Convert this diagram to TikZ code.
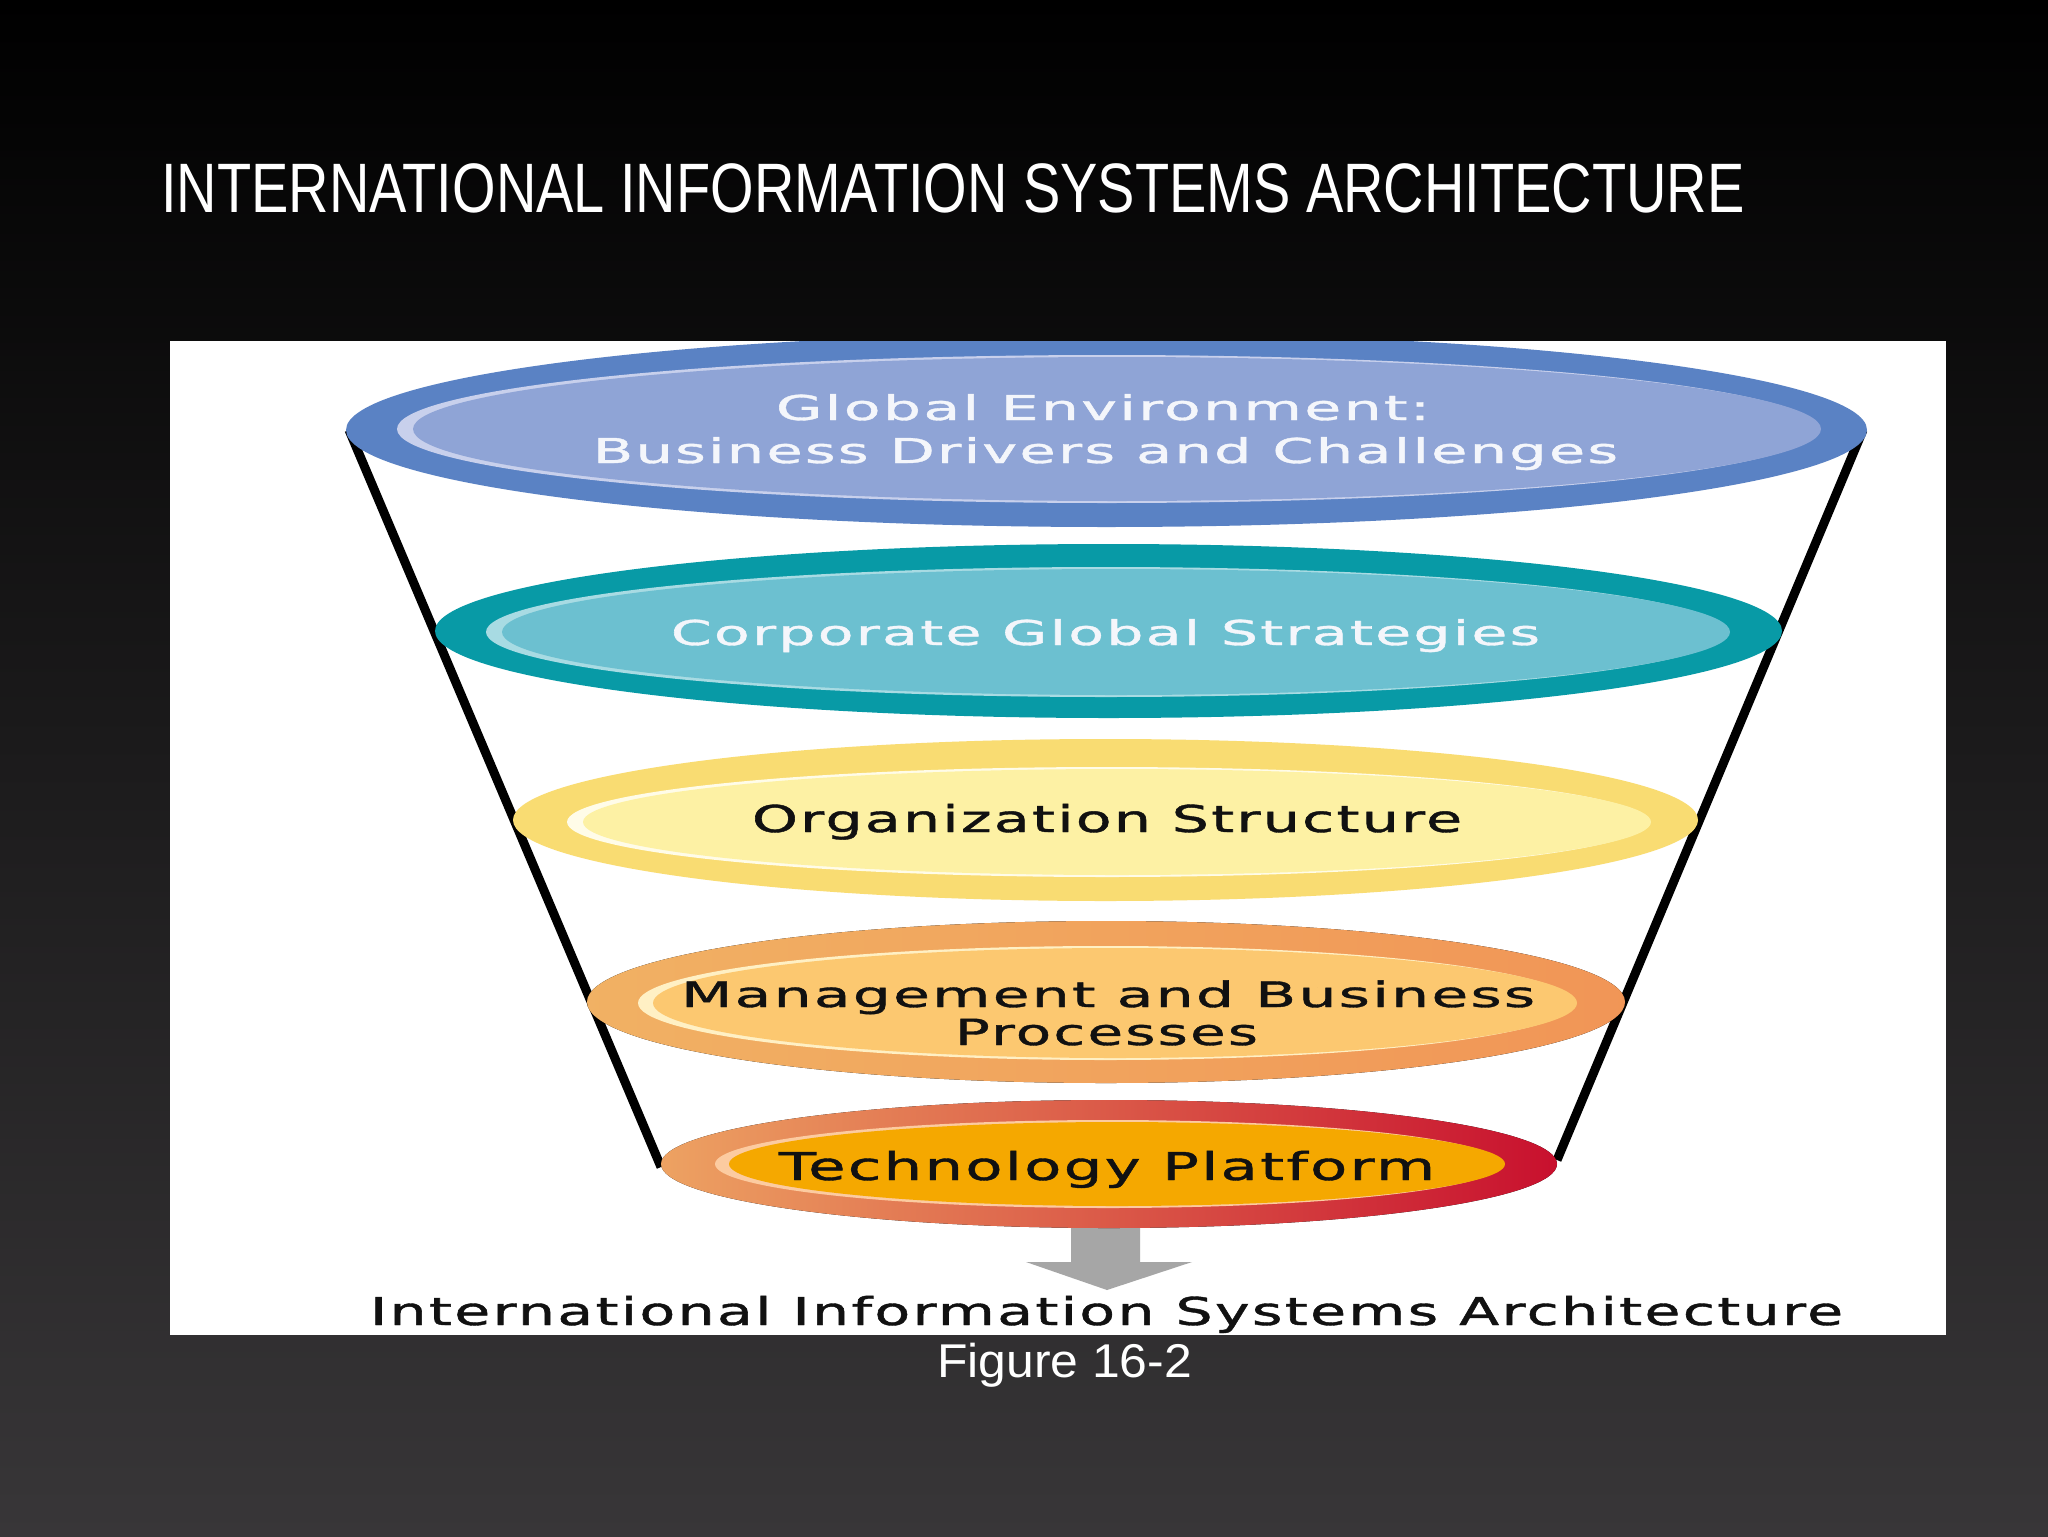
\documentclass[tikz,border=0pt]{standalone}
\usepackage{fontspec}
\usepackage{graphicx}
\setmainfont{Liberation Sans}
\newfontfamily\verd[LetterSpace=4,FakeBold=1]{DejaVu Sans}
\newlength\pxu \setlength\pxu{0.5pt}
\newcommand\fitw[2]{\resizebox{#1\pxu}{\height}{#2}}
\definecolor{bgbot}{HTML}{383638}
\definecolor{blueout}{HTML}{5A82C4}
\definecolor{bluein}{HTML}{8FA4D6}
\definecolor{bluerim}{HTML}{C8D0EC}
\definecolor{tealout}{HTML}{089AA6}
\definecolor{tealin}{HTML}{6CC0D0}
\definecolor{tealrim}{HTML}{A8DBE3}
\definecolor{yelout}{HTML}{F9DC72}
\definecolor{yelin}{HTML}{FDF1A4}
\definecolor{yelrim}{HTML}{FFFCE8}
\definecolor{orout}{HTML}{EFA660}
\definecolor{orin}{HTML}{FCC870}
\definecolor{orrim}{HTML}{FFF0C4}
\definecolor{redl}{HTML}{EDA262}
\definecolor{redm}{HTML}{E25C3C}
\definecolor{redr}{HTML}{C8102E}
\definecolor{redin}{HTML}{F5A800}
\definecolor{redrim}{HTML}{FCCBA0}
\definecolor{arrowgray}{HTML}{A6A6A6}
\definecolor{wtext}{HTML}{F4F6FB}
\definecolor{ktext}{HTML}{111111}
\begin{document}
\begin{tikzpicture}[x=0.5pt,y=-0.5pt,
  lbl/.style={anchor=base,inner sep=0pt},
  funnel/.style={line width=4.5pt,black}]
\shade[top color=black,bottom color=bgbot] (0,0) rectangle (2048,1536);
\useasboundingbox (0,0) rectangle (2048,1536);
\node[lbl,anchor=base west,text=white] (title) at (161,212)
  {\fontsize{35pt}{40pt}\selectfont\fitw{1583}{INTERNATIONAL INFORMATION SYSTEMS ARCHITECTURE}};
\fill[white] (170,341) rectangle (1946,1335);
\begin{scope}
\clip (170,341) rectangle (1946,1335);
\coordinate (lt) at (349,430);
\coordinate (lb) at (661,1167);
\coordinate (rt) at (1863,430);
\coordinate (rb) at (1557,1160);
\draw[funnel] (lt) -- (lb);
\draw[funnel] (rt) -- (rb);
% blue
\fill[blueout] (1106.5,430) ellipse [x radius=760.5,y radius=97];
\fill[bluerim] (1107,429) ellipse [x radius=710,y radius=74];
\fill[bluein] (1117,429) ellipse [x radius=704,y radius=72];
% teal
\fill[tealout] (1108.5,631) ellipse [x radius=673.5,y radius=87];
\fill[tealrim] (1106,632) ellipse [x radius=620,y radius=65];
\fill[tealin] (1116,632) ellipse [x radius=614,y radius=63];
% yellow
\fill[yelout] (1105.5,820) ellipse [x radius=592.5,y radius=81];
\fill[yelrim] (1107,822) ellipse [x radius=540,y radius=55];
\fill[yelin] (1117,822) ellipse [x radius=534,y radius=53];
% orange
\fill[left color=orout!80!yelout,right color=orout!90!red] (1106,1002) ellipse [x radius=519,y radius=81];
\fill[orrim] (1105.5,1003) ellipse [x radius=467.5,y radius=57];
\fill[orin] (1115,1003) ellipse [x radius=462,y radius=55];
% arrow
\fill[arrowgray] (1071,1228) -- (1140,1228) -- (1140,1262) -- (1192,1262) -- (1107,1290) -- (1026,1262) -- (1071,1262) -- cycle;
% red
\fill[left color=redl,middle color=redm,right color=redr] (1109,1164) ellipse [x radius=448,y radius=64];
\fill[redrim] (1108,1164) ellipse [x radius=393,y radius=44];
\fill[redin] (1117,1164) ellipse [x radius=388,y radius=42];
\end{scope}
% texts
\node[lbl,text=wtext] (g1) at (1103,420) {\verd\fontsize{17.1pt}{20pt}\selectfont\fitw{654}{Global Environment:}};
\node[lbl,text=wtext] (g2) at (1105.5,463) {\verd\fontsize{17.1pt}{20pt}\selectfont\fitw{1025}{Business Drivers and Challenges}};
\node[lbl,text=wtext] (cg) at (1105.5,645) {\verd\fontsize{17.1pt}{20pt}\selectfont\fitw{869}{Corporate Global Strategies}};
\node[lbl,text=ktext] (os) at (1107,832) {\verd\fontsize{18.5pt}{20pt}\selectfont\fitw{710}{Organization Structure}};
\node[lbl,text=ktext] (m1) at (1108,1007) {\verd\fontsize{17.5pt}{20pt}\selectfont\fitw{854}{Management and Business}};
\node[lbl,text=ktext] (m2) at (1106.5,1045) {\verd\fontsize{18pt}{20pt}\selectfont\fitw{303}{Processes}};
\node[lbl,text=ktext] (tp) at (1107,1180) {\verd\fontsize{19.2pt}{20pt}\selectfont\fitw{656}{Technology Platform}};
\node[lbl,text=ktext] (ia) at (1106.5,1325) {\verd\fontsize{19.2pt}{20pt}\selectfont\fitw{1473}{International Information Systems Architecture}};
\node[lbl,text=white] (fig) at (1064.5,1377) {\fontsize{23.7pt}{28pt}\selectfont\fitw{255}{Figure 16-2}};
\end{tikzpicture}
\end{document}
